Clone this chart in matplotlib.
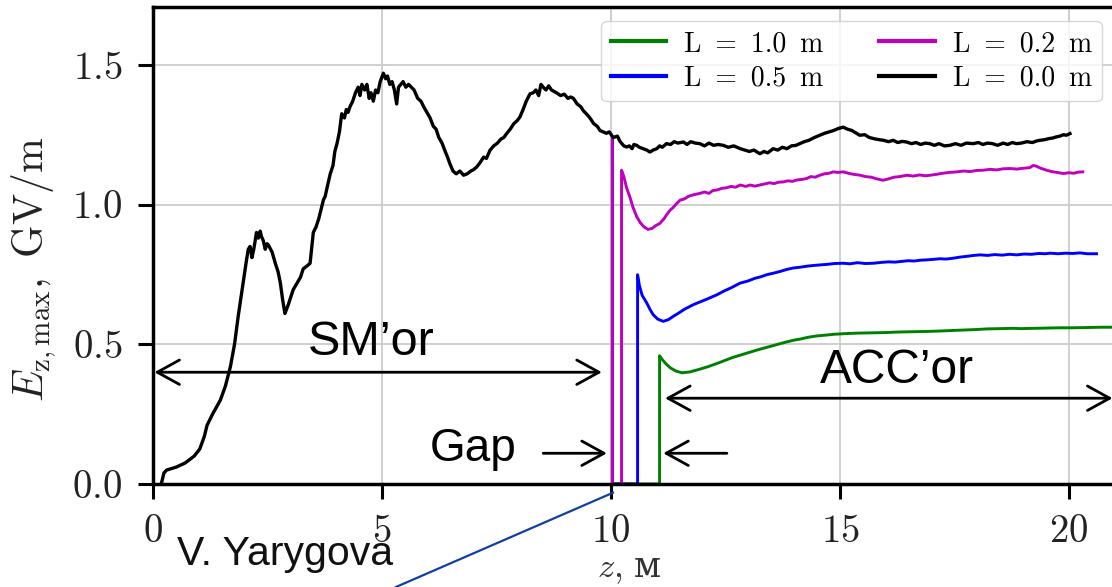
import numpy as np
import matplotlib
matplotlib.use('Agg')
import matplotlib.pyplot as plt
from matplotlib.lines import Line2D

plt.rcParams['font.family'] = ['cmr10', 'DejaVu Serif']
plt.rcParams['mathtext.fontset'] = 'cm'
plt.rcParams['axes.formatter.use_mathtext'] = True

# L = 0.0 m (full curve)
z_00 = [0.18, 0.24, 0.30, 0.5, 0.7, 0.9, 1.02, 1.12, 1.18, 1.3, 1.47, 1.58, 1.69, 1.78, 1.86,
        1.95, 2.04, 2.08, 2.12, 2.16, 2.20, 2.26, 2.30, 2.34, 2.37, 2.41, 2.45, 2.49, 2.52, 2.60,
        2.67, 2.73, 2.78, 2.83, 2.88, 2.95, 3.06, 3.15, 3.22, 3.28, 3.36, 3.43, 3.50, 3.56, 3.62,
        3.68, 3.72, 3.76, 3.80, 3.87, 3.93, 3.97, 4.02, 4.07, 4.12, 4.18, 4.22, 4.26, 4.30, 4.36,
        4.42, 4.48, 4.52, 4.56, 4.62, 4.67, 4.72, 4.76, 4.81, 4.86, 4.91, 4.96, 5.03, 5.08, 5.12,
        5.17, 5.22, 5.27, 5.32, 5.36, 5.41, 5.46, 5.52, 5.58, 5.64, 5.70, 5.78, 5.85, 5.91, 5.98,
        6.05, 6.12, 6.18, 6.24, 6.31, 6.38, 6.43, 6.48, 6.55, 6.62, 6.70, 6.78, 6.86, 6.94, 7.00,
        7.07, 7.14, 7.22, 7.28, 7.36, 7.44, 7.52, 7.60, 7.66, 7.72, 7.80, 7.88, 7.95, 8.01, 8.08,
        8.15, 8.23, 8.30, 8.36, 8.42, 8.47, 8.52, 8.58, 8.64, 8.70, 8.81, 8.90, 8.98, 9.06, 9.12,
        9.18, 9.26, 9.34, 9.40, 9.46, 9.54, 9.62, 9.70, 9.76, 9.83, 9.90, 9.96, 10.05, 10.14, 10.20,
        10.28, 10.34, 10.40, 10.46, 10.50, 10.56, 10.62, 10.70, 10.78, 10.85, 10.92, 11.00, 11.06,
        11.12, 11.21, 11.30, 11.38, 11.46, 11.58, 11.66, 11.74, 11.84, 11.94, 12.04, 12.14, 12.24,
        12.34, 12.45, 12.56, 12.68, 12.82, 12.92, 13.02, 13.12, 13.25, 13.34, 13.42, 13.54, 13.64,
        13.74, 13.84, 13.94, 14.04, 14.12, 14.22, 14.32, 14.44, 14.56, 14.66, 14.76, 14.86, 14.96,
        15.07, 15.16, 15.26, 15.36, 15.43, 15.54, 15.64, 15.76, 15.86, 15.95, 16.06, 16.16, 16.26,
        16.36, 16.45, 16.56, 16.66, 16.76, 16.86, 16.96, 17.06, 17.16, 17.28, 17.40, 17.52, 17.64,
        17.76, 17.91, 18.02, 18.12, 18.22, 18.33, 18.44, 18.56, 18.66, 18.76, 18.85, 18.96, 19.08,
        19.20, 19.30, 19.37, 19.46, 19.56, 19.64, 19.72, 19.80, 19.88, 19.94, 20.02]
E_00 = [0.0, 0.04, 0.05, 0.06, 0.075, 0.10, 0.125, 0.17, 0.21, 0.25, 0.30, 0.35, 0.42, 0.50, 0.60,
        0.70, 0.80, 0.84, 0.85, 0.81, 0.84, 0.90, 0.88, 0.905, 0.885, 0.87, 0.84, 0.86, 0.855, 0.83,
        0.79, 0.76, 0.72, 0.66, 0.61, 0.64, 0.695, 0.72, 0.74, 0.77, 0.78, 0.79, 0.90, 0.92, 0.95,
        0.99, 1.016, 1.03, 1.06, 1.11, 1.14, 1.19, 1.22, 1.26, 1.325, 1.31, 1.34, 1.33, 1.35, 1.37,
        1.40, 1.42, 1.39, 1.43, 1.41, 1.43, 1.38, 1.40, 1.37, 1.41, 1.40, 1.44, 1.47, 1.45, 1.46,
        1.43, 1.44, 1.41, 1.36, 1.42, 1.43, 1.44, 1.42, 1.43, 1.42, 1.41, 1.38, 1.37, 1.35, 1.33,
        1.31, 1.28, 1.27, 1.24, 1.22, 1.19, 1.17, 1.147, 1.12, 1.11, 1.12, 1.105, 1.11, 1.12, 1.125,
        1.135, 1.15, 1.17, 1.165, 1.195, 1.21, 1.22, 1.235, 1.24, 1.254, 1.27, 1.29, 1.30, 1.313, 1.34,
        1.37, 1.396, 1.40, 1.41, 1.39, 1.43, 1.42, 1.41, 1.425, 1.41, 1.40, 1.39, 1.395, 1.38, 1.385,
        1.38, 1.36, 1.35, 1.335, 1.325, 1.31, 1.29, 1.28, 1.265, 1.26, 1.255, 1.26, 1.24, 1.245, 1.225,
        1.21, 1.206, 1.21, 1.20, 1.215, 1.212, 1.205, 1.20, 1.195, 1.188, 1.195, 1.20, 1.21,
        1.205, 1.218, 1.215, 1.225, 1.22, 1.224, 1.215, 1.225, 1.22, 1.218, 1.21, 1.22, 1.212,
        1.215, 1.212, 1.205, 1.21, 1.20, 1.195, 1.19, 1.195, 1.182, 1.19, 1.185, 1.20, 1.195,
        1.205, 1.20, 1.21, 1.212, 1.218, 1.225, 1.23, 1.24, 1.248, 1.255, 1.26, 1.265, 1.272,
        1.277, 1.27, 1.265, 1.255, 1.248, 1.25, 1.24, 1.235, 1.232, 1.23, 1.225, 1.23, 1.222,
        1.226, 1.224, 1.218, 1.222, 1.215, 1.22, 1.218, 1.212, 1.218, 1.21, 1.212, 1.218, 1.212,
        1.22, 1.218, 1.222, 1.215, 1.22, 1.218, 1.212, 1.22, 1.215, 1.222, 1.218, 1.22, 1.225,
        1.222, 1.228, 1.23, 1.232, 1.236, 1.238, 1.242, 1.245, 1.25, 1.248, 1.254]

# L = 0.2 m (after the gap)
z_02 = [10.03, 10.03, 10.23, 10.23, 10.28, 10.34, 10.41, 10.48, 10.56, 10.64, 10.72, 10.81, 10.90,
        10.98, 11.07, 11.16, 11.22, 11.29, 11.36, 11.44, 11.51, 11.60, 11.70, 11.80, 11.94, 12.04,
        12.14, 12.22, 12.31, 12.42, 12.52, 12.62, 12.72, 12.82, 12.94, 13.04, 13.14, 13.25, 13.36,
        13.46, 13.56, 13.66, 13.76, 13.86, 13.96, 14.06, 14.16, 14.27, 14.36, 14.46, 14.56, 14.66,
        14.76, 14.85, 14.96, 15.07, 15.18, 15.30, 15.44, 15.56, 15.68, 15.80, 15.94, 16.06, 16.18,
        16.30, 16.46, 16.60, 16.74, 16.86, 16.97, 17.10, 17.24, 17.38, 17.55, 17.70, 17.84, 17.98,
        18.13, 18.28, 18.42, 18.56, 18.71, 18.86, 19.00, 19.14, 19.22, 19.29, 19.38, 19.51, 19.62,
        19.74, 19.88, 20.00, 20.10, 20.20, 20.30]
E_02 = [1.24, 0.0, 0.0, 1.123, 1.10, 1.06, 1.028, 0.99, 0.957, 0.935, 0.92, 0.911, 0.915,
        0.925, 0.933, 0.95, 0.965, 0.98, 0.99, 1.005, 1.016, 1.02, 1.03, 1.035, 1.04, 1.045,
        1.04, 1.05, 1.052, 1.058, 1.06, 1.065, 1.062, 1.07, 1.065, 1.07, 1.066, 1.07, 1.074,
        1.078, 1.075, 1.08, 1.081, 1.085, 1.083, 1.088, 1.09, 1.093, 1.10, 1.098, 1.105, 1.11,
        1.112, 1.117, 1.115, 1.117, 1.112, 1.108, 1.105, 1.10, 1.098, 1.092, 1.087, 1.092, 1.098,
        1.10, 1.105, 1.102, 1.106, 1.103, 1.105, 1.108, 1.112, 1.115, 1.117, 1.12, 1.118, 1.122,
        1.123, 1.126, 1.124, 1.128, 1.129, 1.127, 1.13, 1.132, 1.14, 1.137, 1.13, 1.123, 1.118,
        1.115, 1.111, 1.114, 1.112, 1.116, 1.117]

# L = 0.5 m
z_05 = [10.03, 10.03, 10.58, 10.58, 10.62, 10.68, 10.78, 10.85, 10.92, 11.02, 11.14, 11.25, 11.36,
        11.48, 11.60, 11.80, 11.95, 12.10, 12.31, 12.46, 12.62, 12.82, 12.98, 13.14, 13.28, 13.40,
        13.56, 13.72, 13.84, 13.98, 14.14, 14.30, 14.42, 14.56, 14.72, 14.88, 15.07, 15.22, 15.38,
        15.56, 15.73, 15.90, 16.06, 16.20, 16.31, 16.48, 16.62, 16.76, 16.89, 17.04, 17.18, 17.32,
        17.47, 17.62, 17.78, 17.92, 18.06, 18.22, 18.38, 18.54, 18.70, 18.86, 19.02, 19.18, 19.34,
        19.48, 19.59, 19.76, 19.92, 20.08, 20.24, 20.40, 20.60]
E_05 = [1.24, 0.0, 0.0, 0.749, 0.71, 0.675, 0.648, 0.625, 0.606, 0.59, 0.582, 0.588, 0.60,
        0.612, 0.625, 0.642, 0.652, 0.662, 0.677, 0.69, 0.702, 0.719, 0.726, 0.736, 0.742, 0.749,
        0.755, 0.762, 0.768, 0.773, 0.776, 0.78, 0.782, 0.784, 0.786, 0.789, 0.79, 0.788, 0.792,
        0.789, 0.79, 0.793, 0.795, 0.794, 0.796, 0.799, 0.798, 0.801, 0.802, 0.804, 0.806, 0.805,
        0.808, 0.812, 0.815, 0.818, 0.82, 0.818, 0.821, 0.819, 0.822, 0.82, 0.823, 0.822, 0.825,
        0.824, 0.826, 0.824, 0.826, 0.825, 0.827, 0.824, 0.824]

# L = 1.0 m
z_10 = [10.03, 10.03, 11.06, 11.06, 11.12, 11.20, 11.30, 11.42, 11.55, 11.72, 11.92, 12.12, 12.34,
        12.50, 12.66, 12.86, 13.04, 13.20, 13.40, 13.60, 13.80, 14.00, 14.14, 14.30, 14.50, 14.70,
        14.88, 15.10, 15.40, 15.70, 15.99, 16.30, 16.60, 16.90, 17.10, 17.40, 17.70, 18.00, 18.21,
        18.50, 18.78, 18.95, 19.20, 19.50, 19.80, 20.07, 20.40, 20.70, 21.00]
E_10 = [1.24, 0.0, 0.0, 0.459, 0.445, 0.43, 0.415, 0.404, 0.398, 0.401, 0.41, 0.42, 0.433,
        0.443, 0.453, 0.463, 0.472, 0.48, 0.489, 0.498, 0.507, 0.515, 0.519, 0.525, 0.530, 0.533,
        0.536, 0.538, 0.540, 0.541, 0.542, 0.544, 0.545, 0.546, 0.547, 0.549, 0.551, 0.553, 0.555,
        0.556, 0.557, 0.556, 0.557, 0.558, 0.559, 0.559, 0.56, 0.561, 0.561]

sp = '\u2002'
labels = [f'L{sp}={sp}1.0{sp}m', f'L{sp}={sp}0.5{sp}m', f'L{sp}={sp}0.2{sp}m', f'L{sp}={sp}0.0{sp}m']

fig = plt.figure(figsize=(11.12, 5.87), dpi=100)
ax = fig.add_axes([153 / 1112, 1 - 484 / 587, 971 / 1112, 477 / 587])

ax.plot(z_10, E_10, color='g', lw=2.1, label=labels[0])
ax.plot(z_05, E_05, color='b', lw=2.1, label=labels[1])
ax.plot(z_02, E_02, color='m', lw=2.1, label=labels[2])
ax.plot(z_00, E_00, color='k', lw=2.4, label=labels[3])

ax.set_xlim(0, 21.2)
ax.set_ylim(0, 1.707)
ax.set_xticks([0, 5, 10, 15, 20])
ax.set_yticks([0.0, 0.5, 1.0, 1.5])
ax.grid(True, color='#cccccc', lw=1.3)
ax.set_axisbelow(True)
for s in ax.spines.values():
    s.set_linewidth(2.5)
ax.tick_params(length=11, width=2.2, labelsize=28, pad=11, labelcolor='#222222')

# x label: "z," in math italic, Cyrillic "м" needs a font that has it
fig.text(597 / 1112, 1 - 577 / 587, r'$z$,', fontsize=25, ha='left', va='baseline', color='#333333')
fig.text(634 / 1112, 1 - 577 / 587, 'м', fontsize=25, family='DejaVu Serif',
         ha='left', va='baseline', color='#333333')
ax.set_ylabel(r'$E_{\mathrm{z,max}},\ \mathrm{GV/m}$', fontsize=30, color='#222222')
ax.yaxis.set_label_coords(-0.098, 0.45)

leg = ax.legend(ncol=2, fontsize=20, loc='upper right',
                bbox_to_anchor=(1102 / 1112, 1 - 21 / 587), bbox_transform=fig.transFigure,
                borderaxespad=0, labelspacing=0.3, handlelength=2.0, handletextpad=0.65,
                columnspacing=2.0, borderpad=0.35, framealpha=0.8, edgecolor='0.8')
for h in leg.get_lines():
    h.set_linewidth(3)

arr = dict(lw=2, color='k', shrinkA=0, shrinkB=0, mutation_scale=40)
ax.annotate('', xy=(0.03, 0.40), xytext=(9.8, 0.40),
            arrowprops=dict(arrowstyle='<->,head_length=0.4,head_width=0.22', **arr))
ax.annotate('', xy=(11.18, 0.307), xytext=(20.95, 0.307),
            arrowprops=dict(arrowstyle='<->,head_length=0.4,head_width=0.22', **arr))
ax.annotate('', xy=(9.91, 0.11), xytext=(8.52, 0.11),
            arrowprops=dict(arrowstyle='->,head_length=0.4,head_width=0.22', **arr))
ax.annotate('', xy=(11.14, 0.11), xytext=(12.53, 0.11),
            arrowprops=dict(arrowstyle='->,head_length=0.4,head_width=0.22', **arr))

sans = 'Liberation Sans'
ax.text(4.76, 0.463, 'SM\u2019or', fontsize=35, family=sans, ha='center', va='baseline')
ax.text(16.24, 0.362, 'ACC\u2019or', fontsize=34.5, family=sans, ha='center', va='baseline')
ax.text(7.0, 0.083, 'Gap', fontsize=33, family=sans, ha='center', va='baseline')
fig.text(177 / 1112, 1 - 565 / 587, 'V. Yarygova', fontsize=29.5, family=sans,
         ha='left', va='baseline', color='#111111')

fig.add_artist(Line2D([396 / 1112, 613 / 1112], [0.0, 1 - 492.7 / 587],
                      color='#1040a0', lw=1.6))

fig.savefig('out.png', dpi=100)
